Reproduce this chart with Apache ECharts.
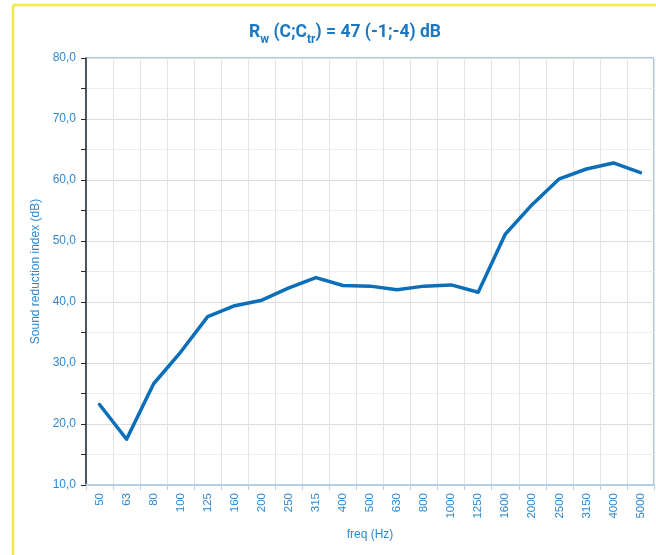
<!DOCTYPE html>
<html>
<head>
<meta charset="utf-8">
<script src="https://cdn.jsdelivr.net/npm/echarts@6/dist/echarts.min.js"></script>
<style>
  html, body { margin: 0; padding: 0; background: #fff; }
  #main { width: 656px; height: 555px; }
</style>
</head>
<body>
<div id="main"></div>
<script>
var freqs = ['50', '63', '80', '100', '125', '160', '200', '250', '315', '400', '500',
  '630', '800', '1000', '1250', '1600', '2000', '2500', '3150', '4000', '5000'];
var rValues = [23.2, 17.5, 26.6, 31.8, 37.6, 39.4, 40.3, 42.3, 44.0, 42.7, 42.6,
  42.0, 42.6, 42.8, 41.6, 51.1, 56.0, 60.2, 61.8, 62.8, 61.2];

var labelBlue = '#2f88cf';

var myChart = echarts.init(document.getElementById('main'));

var option = {
  backgroundColor: '#fff',
  animation: false,
  title: {
    text: '{m|R}{s|w}{m| (C;C}{s|tr}{m|) = 47 (-1;-4) dB}',
    left: 340,
    textAlign: 'center',
    top: 15,
    textStyle: {
      rich: {
        m: { fontFamily: 'Roboto', fontWeight: 'bold', fontSize: 17.5, color: '#1a78c2', verticalAlign: 'bottom', lineHeight: 22 },
        s: { fontFamily: 'Roboto', fontWeight: 'bold', fontSize: 12, color: '#1a78c2', verticalAlign: 'bottom', lineHeight: 15, padding: [0, 0, -4, 0] }
      }
    }
  },
  grid: {
    left: 86,
    right: 2,
    top: 58,
    bottom: 70,
    show: true,
    borderColor: '#4f97d3',
    borderWidth: 1
  },
  xAxis: {
    type: 'category',
    data: freqs,
    boundaryGap: true,
    name: 'freq (Hz)',
    nameLocation: 'middle',
    nameGap: 44,
    nameTextStyle: { color: labelBlue, fontFamily: 'Liberation Sans', fontSize: 12 },
    axisLine: { lineStyle: { color: '#b3cfe8', width: 2 } },
    axisTick: { show: true, alignWithLabel: false, length: 5, lineStyle: { color: '#b3cfe8' } },
    axisLabel: { rotate: 90, color: labelBlue, fontFamily: 'Liberation Sans', fontSize: 11.5, margin: 8, interval: 0 },
    splitLine: { show: true, interval: 0, lineStyle: { color: '#e3e3e3', width: 1 } }
  },
  yAxis: {
    type: 'value',
    min: 10,
    max: 80,
    interval: 10,
    name: 'Sound reduction index (dB)',
    nameLocation: 'middle',
    nameGap: 42,
    nameTextStyle: { color: labelBlue, fontFamily: 'Liberation Sans', fontSize: 12 },
    axisLine: { show: true, lineStyle: { color: '#1f2a33', width: 1.5 } },
    axisTick: { show: true, length: 5, lineStyle: { color: '#1f2a33' } },
    minorTick: { show: true, splitNumber: 2, length: 5, lineStyle: { color: '#1f2a33' } },
    axisLabel: {
      color: labelBlue, fontFamily: 'Liberation Sans', fontSize: 12, margin: 10,
      formatter: function (v) { return v.toFixed(1).replace('.', ','); }
    },
    splitLine: { show: true, lineStyle: { color: '#dcdcdc' } },
    minorSplitLine: { show: true, lineStyle: { color: '#efefef' } }
  },
  series: [{
    type: 'line',
    data: rValues,
    symbol: 'none',
    lineStyle: { color: '#0a6fb8', width: 3.5, cap: 'round', join: 'round' },
    z: 5
  }],
  graphic: [
    { type: 'line', shape: { x1: 13, y1: 5, x2: 656, y2: 5 }, style: { stroke: '#f4e842', lineWidth: 2.5 } },
    { type: 'line', shape: { x1: 13, y1: 5, x2: 13, y2: 555 }, style: { stroke: '#f4e842', lineWidth: 2.5 } }
  ]
};
myChart.setOption(option);
</script>
</body>
</html>
